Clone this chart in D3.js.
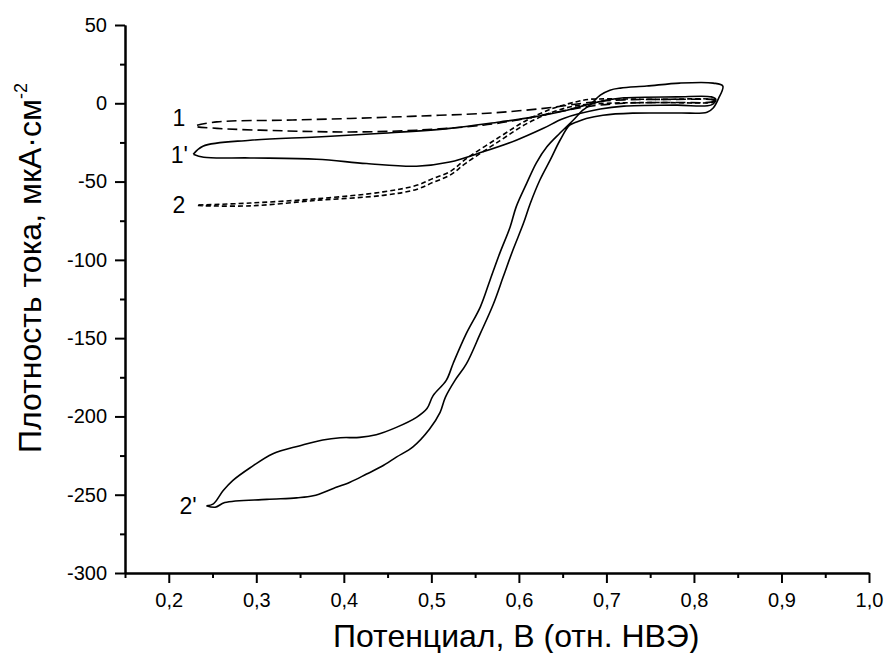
<!DOCTYPE html>
<html><head><meta charset="utf-8">
<script src="https://cdn.jsdelivr.net/npm/d3@7"></script>
<style>body{margin:0;background:#fff}svg{display:block}text{font-family:"Liberation Sans",Arial,sans-serif;fill:#000}</style>
</head><body><svg id="c" width="888" height="653"></svg>
<script>
// ---- data ----
const xMajorTicks = [0.2,0.3,0.4,0.5,0.6,0.7,0.8,0.9,1.0];
const xMinorTicks = [0.15,0.25,0.35,0.45,0.55,0.65,0.75,0.85,0.95];
const yMajorTicks = [50,0,-50,-100,-150,-200,-250,-300];
const yMinorTicks = [25,-25,-75,-125,-175,-225,-275];
const xTitle = "Потенциал, В (отн. НВЭ)";
const yTitle = "Плотность тока, мкА·см";
const yTitleSup = "-2";

const curve1X = [0.825,0.82,0.78,0.72,0.68,0.64,0.60,0.559,0.483,0.407,0.331,0.255,0.23,0.255,0.331,0.407,0.483,0.559,0.60,0.64,0.68,0.72,0.78,0.82,0.825];
const curve1Y = [2.0,2.5,2.5,2.2,0.5,-2.5,-4.8,-6.5,-8.2,-9.7,-10.8,-11.9,-14.6,-16.0,-17.6,-18.3,-17.2,-14.0,-10.5,-6.0,-2.0,0.0,0.5,0.8,2.0];

const curve2X = [0.825,0.82,0.76,0.70,0.68,0.666,0.639,0.609,0.578,0.54,0.521,0.502,0.483,0.445,0.369,0.293,0.232,0.293,0.369,0.445,0.483,0.502,0.521,0.54,0.578,0.609,0.639,0.666,0.70,0.76,0.82,0.825];
const curve2Y = [1.5,2.5,2.5,2.8,2.5,1.0,-3.2,-10.8,-21.5,-35.4,-43.8,-48.0,-52.4,-56.6,-61.0,-63.7,-65.2,-65.5,-62.0,-58.8,-55.0,-50.5,-46.0,-38.0,-24.0,-13.0,-5.5,-1.5,0.0,0.5,0.5,1.5];

const curve1pX = [0.228,0.239,0.293,0.369,0.445,0.521,0.578,0.609,0.655,0.677,0.70,0.72,0.78,0.82,0.825,0.82,0.78,0.72,0.693,0.651,0.628,0.597,0.559,0.521,0.483,0.426,0.369,0.293,0.24,0.228];
const curve1pY = [-32.5,-27.4,-23.6,-21.5,-19.1,-16.0,-11.9,-9.5,-4.4,-1.0,2.0,3.5,4.1,4.1,2.5,-1.0,-1.2,-1.8,-3.7,-9.7,-16.0,-23.6,-31.0,-37.5,-40.2,-38.5,-35.7,-34.9,-34.5,-32.5];

const curve2pX = [0.243,0.251,0.262,0.273,0.293,0.319,0.35,0.376,0.396,0.418,0.437,0.46,0.483,0.495,0.502,0.517,0.525,0.54,0.556,0.567,0.578,0.59,0.597,0.609,0.62,0.632,0.647,0.662,0.673,0.681,0.693,0.704,0.716,0.746,0.784,0.822,0.833,0.828,0.822,0.815,0.784,0.73,0.696,0.677,0.666,0.658,0.647,0.636,0.624,0.613,0.605,0.593,0.582,0.571,0.556,0.54,0.527,0.516,0.51,0.498,0.479,0.46,0.443,0.426,0.407,0.388,0.365,0.346,0.312,0.264,0.253,0.243];
const curve2pY = [-257,-255.8,-247.5,-241,-232.8,-223.8,-218.7,-215,-213.6,-213.4,-211.7,-207,-200.6,-195,-186.7,-177,-166,-147,-130,-113,-96,-79,-66,-51,-38,-27.8,-19,-10.8,-4.4,-1.2,5.2,8.4,9.7,11,12.9,12.9,11,3,-3,-5.7,-6.2,-6.3,-7.6,-9.7,-11.9,-14,-23.6,-36,-49,-64,-77,-94,-111,-128,-147,-166.5,-177,-187.8,-197.4,-208,-219.4,-226,-232,-236.8,-242,-246,-250.7,-252,-253,-255,-258,-257];

const curveLabels = ["1","1'","2","2'"];
const labelX = [0.219,0.222,0.219,0.232];
const labelY = [-14.5,-38,-70,-262];

// ---- chart ----
const svg = d3.select("#c");
const x = d3.scaleLinear().domain([0.15,1.0]).range([125,869]);
const y = d3.scaleLinear().domain([-300,50]).range([573,25]);

const line = d3.line().x(d=>x(d[0])).y(d=>y(d[1])).curve(d3.curveCatmullRom.alpha(0.5));
const zip = (a,b)=>a.map((v,i)=>[v,b[i]]);

const curves = [
  {pts: zip(curve1X,curve1Y), dash:"10,5"},
  {pts: zip(curve2X,curve2Y), dash:"5,3"},
  {pts: zip(curve1pX,curve1pY), dash:null},
  {pts: zip(curve2pX,curve2pY), dash:null}
];
svg.append("g").selectAll("path").data(curves).join("path")
  .attr("d",d=>line(d.pts)).attr("fill","none").attr("stroke","#000")
  .attr("stroke-width",1.6).attr("stroke-dasharray",d=>d.dash);

svg.append("g").selectAll("text").data(curveLabels).join("text")
  .attr("x",(d,i)=>x(labelX[i])).attr("y",(d,i)=>y(labelY[i]))
  .attr("text-anchor","end").attr("font-size",23).text(d=>d);

// axes
const fmt = d=>d.toFixed(1).replace(".",",");
const gx = svg.append("g").attr("transform",`translate(0,${y(-300)})`);
gx.call(d3.axisBottom(x).tickValues(xMajorTicks).tickSize(10).tickSizeOuter(0).tickFormat(fmt).tickPadding(10));
const gxm = svg.append("g").attr("transform",`translate(0,${y(-300)})`);
gxm.call(d3.axisBottom(x).tickValues(xMinorTicks).tickSize(5).tickSizeOuter(0).tickFormat(""));
const gy = svg.append("g").attr("transform",`translate(${x(0.15)},0)`);
gy.call(d3.axisLeft(y).tickValues(yMajorTicks).tickSize(10).tickSizeOuter(0).tickPadding(8).tickFormat(d=>String(d)));
const gym = svg.append("g").attr("transform",`translate(${x(0.15)},0)`);
gym.call(d3.axisLeft(y).tickValues(yMinorTicks).tickSize(5).tickSizeOuter(0).tickFormat(""));
svg.selectAll(".domain, .tick line").attr("stroke","#000").attr("stroke-width",2);
svg.selectAll(".tick text").attr("font-size",20).attr("font-family",'"Liberation Sans",Arial,sans-serif').attr("fill","#000");

svg.append("text").attr("x",333).attr("y",647).attr("text-anchor","start")
  .attr("font-size",32).text(xTitle);
const yt = svg.append("text").attr("transform","translate(41,268) rotate(-90)").attr("text-anchor","middle").attr("font-size",32);
yt.append("tspan").text(yTitle);
yt.append("tspan").attr("font-size",18).attr("dy",-14).text(yTitleSup);
</script></body></html>
